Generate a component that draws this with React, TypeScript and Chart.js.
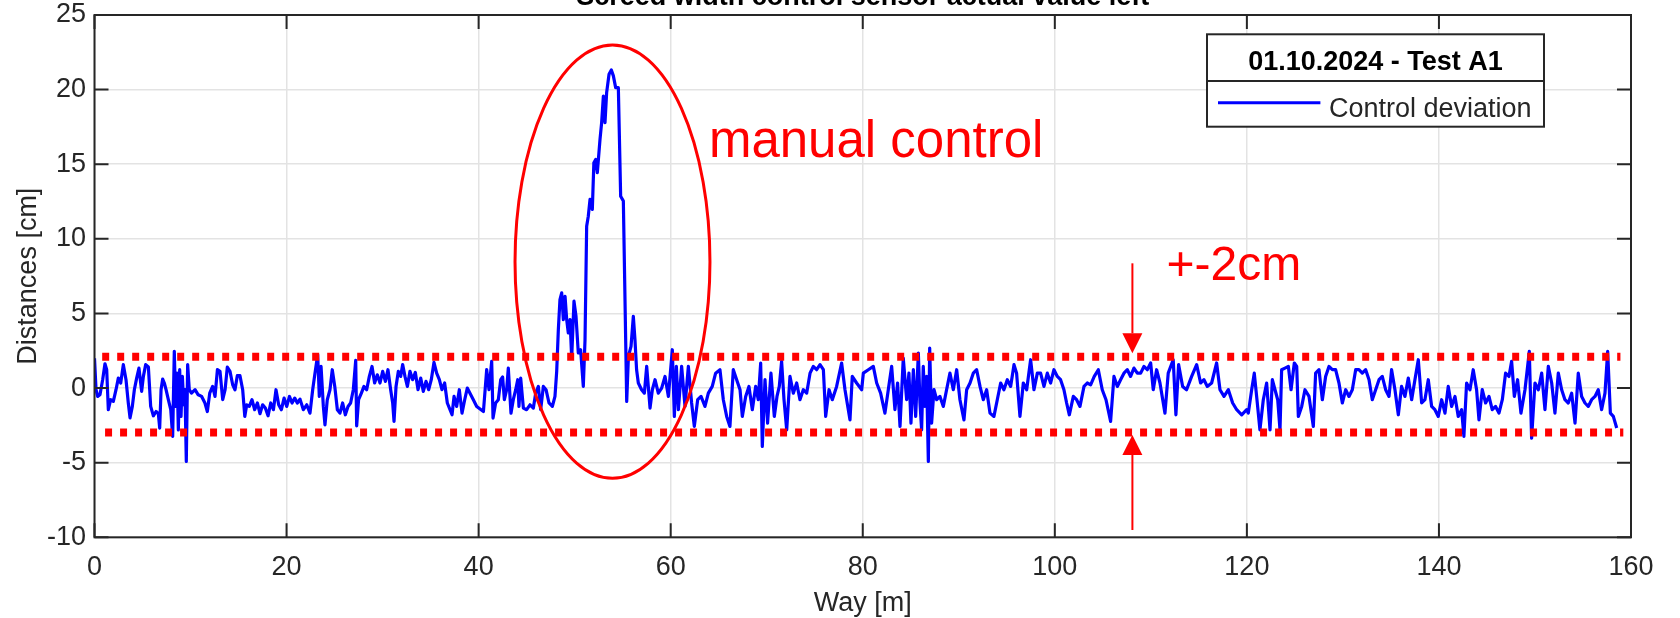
import React, { useEffect, useRef } from 'react';
import { Chart, registerables } from 'chart.js';

Chart.register(...registerables);

const FONT = '"Liberation Sans", Arial, Helvetica, sans-serif';
const AXIS_COLOR = '#262626';
const GRID_COLOR = '#e3e3e3';
const RED = '#ff0000';
const BLUE = '#0000ff';

// ---------- texts ----------
const chartTitle = 'Screed width control sensor actual value left';
const legendTitle = '01.10.2024 - Test A1';
const seriesLabel = 'Control deviation';
const xAxisLabel = 'Way [m]';
const yAxisLabel = 'Distances [cm]';
const manualLabel = 'manual control';
const toleranceLabel = '+-2cm';

// ---------- ticks ----------
const xTicks = [0, 20, 40, 60, 80, 100, 120, 140, 160];
const yTicks = [-10, -5, 0, 5, 10, 15, 20, 25];

// ---------- series: [way m, deviation cm] ----------
const controlDeviation: [number, number][] = [
  [0, 2.0], [0.16, -0.1], [0.33, -0.56], [0.57, -0.45], [0.85, 0.56], [1.09, 1.63], [1.27, 1.23], [1.44, -1.45],
  [1.68, -0.78], [1.96, -0.89], [2.24, -0.11], [2.48, 0.67], [2.73, 0.34], [3.0, 1.57], [3.28, 0.56], [3.52, -1.0],
  [3.7, -2.0], [3.94, -1.23], [4.15, -0.11], [4.39, 0.67], [4.63, 1.34], [4.91, -0.22], [5.09, 0.78], [5.33, 1.57],
  [5.61, 1.41], [5.85, -1.23], [6.13, -1.86], [6.41, -1.57], [6.65, -1.72], [6.79, -2.68], [6.93, -0.11], [7.1, 0.6],
  [7.27, 0.34], [7.45, -0.11], [7.69, -0.78], [7.94, -1.45], [8.14, -3.24], [8.31, 2.46], [8.45, -1.23], [8.6, 1.0],
  [8.73, -2.8], [8.87, 1.23], [9.01, -1.9], [9.15, 0.78], [9.29, -1.12], [9.42, -0.11], [9.56, -4.92], [9.7, 1.57],
  [9.87, -0.11], [10.1, -0.34], [10.47, -0.11], [10.8, -0.45], [11.16, -0.56], [11.5, -1.0], [11.75, -1.57], [12.0, -0.34],
  [12.3, 0.11], [12.55, -0.56], [12.8, 1.23], [13.07, 1.12], [13.35, -0.78], [13.6, -0.11], [13.83, 1.41], [14.11, 1.12],
  [14.39, 0.22], [14.63, -0.11], [14.87, 0.83], [15.15, 0.83], [15.43, -0.11], [15.65, -1.9], [15.85, -1.12], [16.12, -1.23],
  [16.4, -0.78], [16.68, -1.45], [16.96, -1.0], [17.23, -1.72], [17.51, -1.12], [17.79, -1.34], [18.07, -1.86], [18.35, -1.0],
  [18.63, -1.45], [18.9, -0.11], [19.18, -1.12], [19.46, -1.45], [19.74, -0.67], [20.02, -1.23], [20.3, -0.56], [20.57, -1.0],
  [20.85, -0.67], [21.12, -1.0], [21.4, -0.74], [21.75, -1.45], [22.1, -1.12], [22.44, -1.68], [22.72, -0.11], [22.96, 1.0],
  [23.24, 2.24], [23.41, -0.56], [23.59, 1.45], [23.83, -1.23], [24.0, -2.46], [24.24, -0.78], [24.52, -0.11], [24.76, 1.23],
  [25.02, 0.11], [25.29, -1.45], [25.56, -1.68], [25.84, -1.0], [26.12, -1.79], [26.4, -1.23], [26.67, -1.0], [26.95, -0.11],
  [27.2, 1.86], [27.3, -2.53], [27.5, -0.78], [27.79, -0.34], [28.06, 0.11], [28.34, -0.11], [28.62, 0.78], [28.9, 1.45],
  [29.17, 0.34], [29.45, 0.89], [29.73, 0.34], [30.01, 1.12], [30.29, 0.45], [30.56, 1.23], [30.84, -0.11], [31.05, -1.0],
  [31.19, -2.24], [31.4, 0.11], [31.64, 1.12], [31.88, 0.78], [32.09, 1.57], [32.33, 0.78], [32.58, 0.11], [32.85, 1.12],
  [33.13, 0.56], [33.41, 1.05], [33.69, -0.11], [33.97, 0.67], [34.24, -0.22], [34.52, 0.45], [34.8, -0.11], [35.07, 0.56],
  [35.35, 1.72], [35.63, 1.0], [35.91, 0.56], [36.18, -0.11], [36.46, 0.34], [36.74, -1.0], [37.02, -1.45], [37.23, -1.79],
  [37.44, -0.56], [37.71, -1.23], [37.99, -0.11], [38.27, -1.68], [38.55, -0.78], [38.82, 0.0], [39.1, -0.34], [39.45, -0.78],
  [39.8, -1.23], [40.5, -1.57], [40.84, 1.23], [41.08, -0.11], [41.36, 1.79], [41.5, -2.01], [41.77, -1.0], [42.05, -0.78],
  [42.3, 0.56], [42.5, 0.74], [42.68, -0.78], [42.92, -0.11], [43.09, 1.34], [43.37, -1.68], [43.61, -0.78], [43.86, -0.11],
  [44.07, 0.56], [44.2, -1.23], [44.38, 0.67], [44.66, -1.34], [45.0, -1.45], [45.35, -1.12], [45.7, -1.34], [45.94, -0.34],
  [46.22, 0.11], [46.46, -1.45], [46.74, 0.11], [47.02, -0.11], [47.33, -1.0], [47.68, -1.23], [47.95, -0.56], [48.13, 1.12],
  [48.3, 3.9], [48.47, 5.93], [48.65, 6.38], [48.82, 4.59], [49.0, 6.15], [49.17, 4.59], [49.34, 3.69], [49.52, 4.59],
  [49.69, 2.01], [49.93, 5.82], [50.14, 4.81], [50.38, 2.35], [50.62, 2.57], [50.9, 0.11], [51.08, 3.24], [51.25, 10.85],
  [51.42, 11.52], [51.6, 12.64], [51.84, 11.97], [52.0, 15.1], [52.19, 15.32], [52.36, 14.43], [52.64, 16.67], [52.81, 17.79],
  [52.99, 19.57], [53.16, 17.79], [53.33, 19.8], [53.58, 21.03], [53.82, 21.32], [54.03, 20.92], [54.27, 20.13], [54.55, 20.13],
  [54.79, 12.86], [55.07, 12.53], [55.42, -0.89], [55.6, 2.13], [55.87, 2.8], [56.11, 4.81], [56.28, 3.24], [56.45, 1.23],
  [56.63, 0.34], [56.97, -0.11], [57.26, -0.34], [57.5, 1.45], [57.85, -1.34], [58.09, -0.11], [58.37, 0.56], [58.71, -0.34],
  [59.06, 0.0], [59.41, 0.78], [59.76, -0.56], [60.17, 2.57], [60.38, -1.9], [60.59, 1.45], [60.8, -1.45], [61.14, 1.45],
  [61.49, -1.23], [61.84, 1.45], [62.18, -1.0], [62.46, -2.57], [62.81, -0.78], [63.16, -0.56], [63.57, -1.23], [63.92, -0.34],
  [64.33, 0.11], [64.68, 1.0], [65.13, 1.23], [65.48, -0.78], [65.83, -1.9], [66.17, -2.57], [66.52, 1.23], [66.87, 0.56],
  [67.22, -0.11], [67.46, -1.9], [67.81, -0.56], [68.15, 0.11], [68.5, -1.45], [68.85, 0.11], [69.12, -0.78], [69.37, 1.68],
  [69.54, -3.91], [69.82, 0.56], [70.09, -2.35], [70.44, 1.0], [70.79, -1.9], [71.07, -0.56], [71.31, 0.11], [71.55, 1.79],
  [71.8, -0.78], [72.08, -2.8], [72.42, 0.78], [72.77, -0.34], [73.12, 0.34], [73.46, -0.78], [73.81, -0.11], [74.16, -0.34],
  [74.51, 1.0], [74.85, 1.45], [75.2, 1.23], [75.55, 1.57], [75.9, 1.23], [76.14, -1.9], [76.49, -0.11], [76.83, -0.78],
  [77.28, 0.11], [77.8, 1.68], [78.15, -0.11], [78.67, -2.13], [78.91, 0.78], [79.36, 0.34], [79.89, -0.11], [80.06, 1.0],
  [80.58, 1.23], [81.1, 1.45], [81.45, 0.34], [81.86, -0.34], [82.31, -1.68], [82.66, -0.11], [83.01, 1.45], [83.35, -1.45],
  [83.63, 0.34], [83.88, -2.57], [84.22, 2.01], [84.57, -0.78], [84.81, 1.0], [85.02, -2.35], [85.27, 1.23], [85.51, -1.9],
  [85.79, 2.35], [85.96, -1.0], [86.13, -2.8], [86.3, 1.45], [86.48, -1.23], [86.65, 0.78], [86.83, -4.92], [86.97, 2.68],
  [87.17, -2.35], [87.42, -0.11], [87.7, -0.78], [88.04, -0.56], [88.39, -1.23], [88.73, -0.11], [89.08, 1.0], [89.43, -0.11],
  [89.78, 1.23], [90.12, -0.78], [90.54, -2.13], [90.82, -0.11], [91.17, 0.34], [91.51, 1.0], [91.86, 1.23], [92.21, 0.11],
  [92.55, -0.78], [92.9, -0.11], [93.25, -1.68], [93.66, -1.9], [94.01, -0.78], [94.36, 0.34], [94.7, -0.11], [95.05, 0.56],
  [95.4, 0.11], [95.75, 1.57], [96.02, 1.0], [96.37, -1.9], [96.72, 0.34], [97.07, -0.11], [97.48, 1.9], [97.83, -0.11],
  [98.18, 1.0], [98.52, 1.0], [98.87, 0.11], [99.22, 1.0], [99.56, 0.34], [99.91, 1.23], [100.26, 0.78], [100.6, 0.56],
  [100.95, -0.11], [101.23, -1.0], [101.51, -1.79], [101.93, -0.56], [102.27, -0.78], [102.62, -1.23], [103.04, 0.11], [103.38, 0.34],
  [103.73, 0.22], [104.11, 0.78], [104.53, 1.23], [104.94, -0.11], [105.33, -0.78], [105.81, -2.24], [106.16, 0.78], [106.51, 0.11],
  [106.85, 0.56], [107.2, 1.0], [107.55, 1.23], [107.89, 0.78], [108.24, 1.34], [108.59, 1.0], [108.94, 1.0], [109.28, 1.45],
  [109.63, 1.23], [109.98, 1.68], [110.25, -0.11], [110.6, 1.23], [110.95, 0.34], [111.47, -1.68], [111.81, 1.0], [112.33, 1.9],
  [112.61, -1.79], [112.89, 1.57], [113.31, 0.11], [113.72, -0.11], [114.25, 0.78], [114.77, 1.57], [115.18, 0.34], [115.53, 0.56],
  [115.88, 0.11], [116.33, 0.34], [116.85, 1.68], [117.2, -0.11], [117.62, -0.56], [118.07, -0.11], [118.52, -1.0], [118.94, -1.45],
  [119.46, -1.79], [119.98, -1.45], [120.15, -1.68], [120.5, -0.11], [120.77, 1.0], [121.05, -0.78], [121.36, -2.8], [121.71, -0.78],
  [122.06, 0.34], [122.41, -2.8], [122.65, 0.56], [122.93, -0.11], [123.21, -0.78], [123.45, -2.8], [123.62, 1.23], [123.97, 1.34],
  [124.32, 1.45], [124.6, -0.11], [124.94, 1.68], [125.19, 1.45], [125.36, -1.9], [125.71, -1.23], [126.05, -0.11], [126.47, -0.56],
  [126.92, -2.57], [127.16, 1.0], [127.51, 1.23], [127.86, -0.78], [128.2, 0.78], [128.55, 1.45], [128.9, 1.23], [129.24, 1.23],
  [129.59, 0.34], [129.94, -1.0], [130.29, -0.11], [130.63, -0.56], [130.98, -0.11], [131.33, 1.23], [131.67, 1.23], [132.02, 1.0],
  [132.37, 1.23], [132.72, 0.56], [133.06, -0.78], [133.41, -0.11], [133.76, 0.56], [134.1, 0.78], [134.45, -0.11], [134.8, -0.56],
  [135.07, 1.23], [135.42, -0.11], [135.77, -1.79], [136.11, 0.11], [136.46, -0.56], [136.81, 0.67], [137.16, -0.78], [137.5, 0.56],
  [137.85, 1.9], [138.2, -1.0], [138.54, -0.78], [138.89, 0.56], [139.24, -1.23], [139.58, -1.45], [139.93, -1.9], [140.28, -0.78],
  [140.63, -1.68], [140.97, 0.11], [141.32, -1.23], [141.67, -0.56], [142.01, -1.9], [142.36, -1.45], [142.6, -3.24], [142.88, 0.34],
  [143.23, -0.11], [143.57, 1.23], [143.92, -0.11], [144.17, -2.13], [144.51, -0.11], [144.86, -1.0], [145.21, -0.56], [145.55, -1.45],
  [145.9, -1.23], [146.25, -1.68], [146.6, -0.78], [146.94, 1.0], [147.29, 0.78], [147.57, 1.79], [147.85, -0.56], [148.19, 0.56],
  [148.54, -1.68], [148.96, -0.11], [149.41, 2.46], [149.65, -3.36], [150.0, 0.34], [150.35, -0.11], [150.7, 1.0], [151.04, -1.45],
  [151.39, 1.45], [151.74, 0.34], [152.08, -1.68], [152.43, 1.0], [152.78, -0.11], [153.12, -0.78], [153.47, -1.0], [153.82, -0.34],
  [154.17, -2.35], [154.51, 1.0], [154.86, -0.56], [155.21, -1.0], [155.55, -1.23], [155.9, -0.78], [156.25, -0.56], [156.59, -0.11],
  [156.94, -1.45], [157.29, -0.34], [157.57, 2.46], [157.85, -1.68], [158.16, -1.9], [158.51, -2.68],
];

// ---------- annotation values (in data units) ----------
const toleranceUpper: [number, number][] = [[0.8, 2.1], [158.9, 2.1]];
const toleranceLower: [number, number][] = [[1.1, -2.98], [159.2, -2.98]];
const ellipseCenter = [53.94, 8.47];
const ellipseRadii = [10.15, 14.52];
const manualLabelAt = [63.98, 15.5];
const toleranceLabelAt = [111.63, 7.24];
const arrowX = 108.08;
const arrowDownFromTo = [8.36, 2.33];
const arrowUpFromTo = [-9.51, -3.14];

const toXY = (pts: [number, number][]) => pts.map(([x, y]) => ({ x, y }));

const overlayPlugin = {
  id: 'overlay',
  afterDatasetsDraw(chart: any) {
    const { ctx, chartArea: a } = chart;
    const xs = chart.scales.x;
    const ys = chart.scales.y;
    const px = (v: number) => xs.getPixelForValue(v);
    const py = (v: number) => ys.getPixelForValue(v);
    ctx.save();

    // ellipse around manual control region
    ctx.beginPath();
    const cx = px(ellipseCenter[0]);
    const cy = py(ellipseCenter[1]);
    ctx.ellipse(cx, cy, Math.abs(px(ellipseCenter[0] + ellipseRadii[0]) - cx), Math.abs(py(ellipseCenter[1] + ellipseRadii[1]) - cy), 0, 0, Math.PI * 2);
    ctx.strokeStyle = RED;
    ctx.lineWidth = 3;
    ctx.stroke();

    // arrows
    const ax = px(arrowX);
    const head = 20;
    const drawArrow = (from: number, to: number) => {
      const y0 = py(from);
      const y1 = py(to);
      const dir = y1 > y0 ? 1 : -1;
      ctx.beginPath();
      ctx.moveTo(ax, y0);
      ctx.lineTo(ax, y1 - dir * head);
      ctx.strokeStyle = RED;
      ctx.lineWidth = 2;
      ctx.stroke();
      ctx.beginPath();
      ctx.moveTo(ax, y1);
      ctx.lineTo(ax - 10, y1 - dir * head);
      ctx.lineTo(ax + 10, y1 - dir * head);
      ctx.closePath();
      ctx.fillStyle = RED;
      ctx.fill();
    };
    drawArrow(arrowDownFromTo[0], arrowDownFromTo[1]);
    drawArrow(arrowUpFromTo[0], arrowUpFromTo[1]);

    // red texts
    ctx.fillStyle = RED;
    ctx.textAlign = 'left';
    ctx.textBaseline = 'alphabetic';
    ctx.font = `51px ${FONT}`;
    ctx.fillText(manualLabel, px(manualLabelAt[0]), py(manualLabelAt[1]));
    ctx.font = `48px ${FONT}`;
    ctx.fillText(toleranceLabel, px(toleranceLabelAt[0]), py(toleranceLabelAt[1]));

    // axes box
    ctx.strokeStyle = AXIS_COLOR;
    ctx.lineWidth = 2;
    ctx.strokeRect(a.left, a.top, a.right - a.left, a.bottom - a.top);

    // inner ticks
    const tl = 14;
    ctx.beginPath();
    xTicks.forEach((v) => {
      const x = px(v);
      ctx.moveTo(x, a.bottom);
      ctx.lineTo(x, a.bottom - tl);
      ctx.moveTo(x, a.top);
      ctx.lineTo(x, a.top + tl);
    });
    yTicks.forEach((v) => {
      const y = py(v);
      ctx.moveTo(a.left, y);
      ctx.lineTo(a.left + tl, y);
      ctx.moveTo(a.right, y);
      ctx.lineTo(a.right - tl, y);
    });
    ctx.stroke();

    // legend
    const ds = chart.data.datasets[0];
    const lw = 337;
    const lh = 92.4;
    const lx = a.right - 87 - lw;
    const ly = a.top + 19.3;
    ctx.fillStyle = '#ffffff';
    ctx.fillRect(lx, ly, lw, lh);
    ctx.strokeStyle = AXIS_COLOR;
    ctx.lineWidth = 2;
    ctx.strokeRect(lx, ly, lw, lh);
    ctx.beginPath();
    ctx.moveTo(lx, ly + 46.7);
    ctx.lineTo(lx + lw, ly + 46.7);
    ctx.stroke();
    ctx.fillStyle = '#000000';
    ctx.font = `bold 27px ${FONT}`;
    ctx.textAlign = 'center';
    ctx.fillText(legendTitle, lx + lw / 2, ly + 35.7);
    ctx.beginPath();
    ctx.moveTo(lx + 11, ly + 68.4);
    ctx.lineTo(lx + 113.4, ly + 68.4);
    ctx.strokeStyle = ds.borderColor;
    ctx.lineWidth = 3;
    ctx.stroke();
    ctx.fillStyle = AXIS_COLOR;
    ctx.font = `27px ${FONT}`;
    ctx.textAlign = 'left';
    ctx.fillText(ds.label, lx + 122, ly + 82.4);

    // chart title (cut off by the top edge)
    ctx.fillStyle = '#000000';
    ctx.font = `bold 27px ${FONT}`;
    ctx.textAlign = 'center';
    ctx.fillText(chartTitle, (a.left + a.right) / 2, a.top - 10);

    ctx.restore();
  },
};

export default function App() {
  const ref = useRef<HTMLCanvasElement>(null);

  useEffect(() => {
    const canvas = ref.current;
    if (!canvas) return;
    const tickFont = { family: FONT, size: 27 };
    const chart = new Chart(canvas, {
      type: 'line',
      data: {
        datasets: [
          {
            label: seriesLabel,
            data: toXY(controlDeviation),
            borderColor: BLUE,
            borderWidth: 3.2,
            pointRadius: 0,
            tension: 0,
            borderJoinStyle: 'round',
            order: 1,
          },
          {
            label: 'upper tolerance',
            data: toXY(toleranceUpper),
            borderColor: RED,
            borderWidth: 8,
            borderDash: [7, 8],
            borderCapStyle: 'butt',
            pointRadius: 0,
            order: 0,
          },
          {
            label: 'lower tolerance',
            data: toXY(toleranceLower),
            borderColor: RED,
            borderWidth: 8,
            borderDash: [7, 8],
            borderCapStyle: 'butt',
            pointRadius: 0,
            order: 0,
          },
        ],
      } as any,
      options: {
        responsive: false,
        animation: false,
        devicePixelRatio: 1,
        layout: { padding: { left: 0, right: 49, top: 15, bottom: 0 }, autoPadding: false } as any,
        plugins: {
          legend: { display: false },
          tooltip: { enabled: false },
          title: { display: false },
        },
        scales: {
          x: {
            type: 'linear',
            min: 0,
            max: 160,
            afterBuildTicks: (s: any) => {
              s.ticks = xTicks.map((v) => ({ value: v }));
            },
            afterFit: (s: any) => {
              s.height = 80.7;
              s.paddingLeft = 0;
              s.paddingRight = 0;
              s.paddingTop = 0;
              s.paddingBottom = 0;
            },
            grid: { color: GRID_COLOR, lineWidth: 1.5, drawTicks: false },
            border: { display: false },
            ticks: {
              font: tickFont,
              color: AXIS_COLOR,
              padding: 14,
              maxRotation: 0,
              autoSkip: false,
              callback: (v: any) => String(v),
            },
            title: {
              display: true,
              text: xAxisLabel,
              font: { family: FONT, size: 27, lineHeight: 0.8 },
              color: AXIS_COLOR,
              padding: { top: 0, bottom: 3.5 },
            },
          },
          y: {
            type: 'linear',
            min: -10,
            max: 25,
            afterBuildTicks: (s: any) => {
              s.ticks = yTicks.map((v) => ({ value: v }));
            },
            afterFit: (s: any) => {
              s.width = 94.5;
              s.paddingLeft = 0;
              s.paddingRight = 0;
              s.paddingTop = 0;
              s.paddingBottom = 0;
            },
            grid: { color: GRID_COLOR, lineWidth: 1.5, drawTicks: false },
            border: { display: false },
            ticks: {
              font: tickFont,
              color: AXIS_COLOR,
              padding: 8.5,
              autoSkip: false,
              callback: (v: any) => String(v),
            },
            title: {
              display: true,
              text: yAxisLabel,
              font: tickFont,
              color: AXIS_COLOR,
              padding: { top: 12, bottom: 0 },
            },
          },
        },
      } as any,
      plugins: [overlayPlugin],
    });
    return () => chart.destroy();
  }, []);

  return (
    <div style={{ position: 'fixed', left: 0, top: 0, width: 1680, height: 618, background: '#ffffff' }}>
      <canvas ref={ref} width={1680} height={618} style={{ display: 'block', width: 1680, height: 618 }} />
    </div>
  );
}
